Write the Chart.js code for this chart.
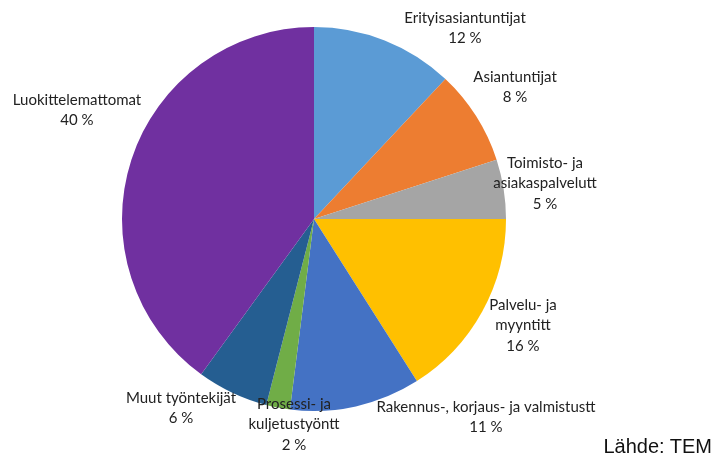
<!DOCTYPE html>
<html>
<head>
<meta charset="utf-8">
<script src="https://cdn.jsdelivr.net/npm/chart.js@4"></script>
<style>
html,body{margin:0;padding:0;background:#fff;}
#wrap{position:relative;width:719px;height:460px;}
#src{position:absolute;right:7px;top:435px;font-family:"Liberation Sans",Arial,sans-serif;font-size:20px;color:#111;}
</style>
</head>
<body>
<div id="wrap"><canvas id="c" width="719" height="460"></canvas><div id="src">Lähde: TEM</div></div>
<script>
const categories = [
  ["Erityisasiantuntijat"],
  ["Asiantuntijat"],
  ["Toimisto- ja", "asiakaspalvelutt"],
  ["Palvelu- ja", "myyntitt"],
  ["Rakennus-, korjaus- ja valmistustt"],
  ["Prosessi- ja", "kuljetustyöntt"],
  ["Muut työntekijät"],
  ["Luokittelemattomat"]
];
const values = [12, 8, 5, 16, 11, 2, 6, 40];
const colors = ["#5B9BD5", "#ED7D31", "#A5A5A5", "#FFC000", "#4472C4", "#70AD47", "#255E91", "#7030A0"];
// label anchor positions (canvas px): center x, first line y
const labelPos = [
  [465, 18], [515, 77], [545, 163], [523, 305],
  [486, 407], [294, 404], [181, 398], [77, 100]
];

const labelPlugin = {
  id: 'pieLabels',
  afterDatasetsDraw(chart) {
    const ctx = chart.ctx;
    const ds = chart.data.datasets[0];
    ctx.save();
    ctx.font = '15px Lato, "Open Sans", sans-serif';
    ctx.fillStyle = '#222';
    ctx.textAlign = 'center';
    ctx.textBaseline = 'middle';
    chart.data.labels.forEach((lbl, i) => {
      const lines = lbl.concat([ds.data[i] + ' %']);
      const [x, y] = labelPos[i];
      lines.forEach((t, j) => ctx.fillText(t, x, y + j * 20.5));
    });
    ctx.restore();
  }
};

new Chart(document.getElementById('c'), {
  type: 'pie',
  data: {
    labels: categories,
    datasets: [{ data: values, backgroundColor: colors, borderWidth: 0, hoverOffset: 0 }]
  },
  options: {
    responsive: false,
    animation: false,
    layout: { padding: { left: 122, right: 213, top: 27, bottom: 49 } },
    plugins: { legend: { display: false }, tooltip: { enabled: false } }
  },
  plugins: [labelPlugin]
});
</script>
</body>
</html>
